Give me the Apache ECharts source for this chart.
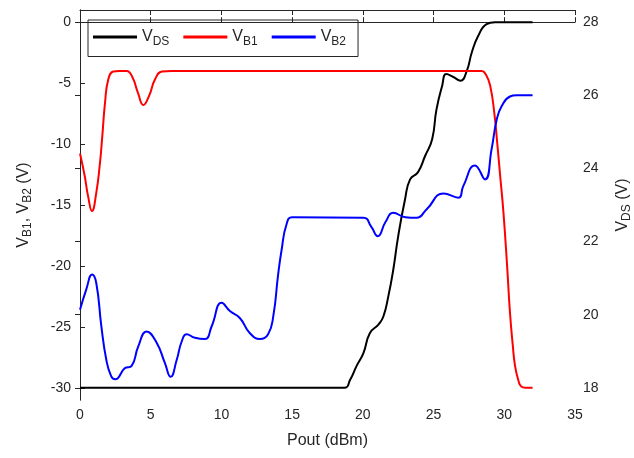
<!DOCTYPE html>
<html>
<head>
<meta charset="utf-8">
<script src="https://cdn.jsdelivr.net/npm/echarts@6/dist/echarts.min.js"></script>
<style>
  html, body { margin: 0; padding: 0; background: #fff; }
  #chart { width: 634px; height: 458px; }
</style>
</head>
<body>
<div id="chart"></div>
<script>
// ------------------------------
// Data
// ------------------------------
var vdsX = [0, 18.7, 19.1, 19.56, 20.04, 20.5, 21.1, 21.45, 21.8, 22.15, 22.5, 22.98, 23.34, 23.9, 24.4, 24.9, 25.2, 25.6, 25.9, 26.4, 26.9, 27.35, 27.7, 28.15, 28.75, 29.35, 32];
var vdsY = [18, 18, 18.22, 18.6, 18.95, 19.5, 19.73, 19.95, 20.5, 21.23, 22.15, 23.15, 23.7, 23.9, 24.34, 24.8, 25.6, 26.25, 26.58, 26.5, 26.4, 26.67, 27.17, 27.62, 27.95, 28, 28];

var vb1X = [0, 0.33, 0.57, 0.85, 1.15, 1.39, 1.56, 1.77, 2.0, 2.35, 2.8, 3.3, 3.7, 4.1, 4.48, 4.9, 5.3, 5.8, 6.5, 28.4, 28.7, 29.0, 29.3, 29.5, 29.7, 29.94, 30.2, 30.4, 30.6, 30.76, 31.0, 31.2, 31.5, 32];
var vb1Y = [-10.77, -12.6, -14.27, -15.5, -14.0, -11.8, -9.6, -6.6, -4.7, -4.05, -4.0, -4.0, -4.5, -5.8, -6.8, -6.0, -4.7, -4.05, -4.0, -4.0, -4.3, -5.2, -7.5, -9.9, -12.5, -15.6, -20, -23.8, -26.5, -28.2, -29.4, -29.9, -30, -30];

var vb2X = [0, 0.45, 0.85, 1.15, 1.51, 1.86, 2.21, 2.5, 3.16, 3.65, 4.12, 4.71, 5.42, 6.0, 6.41, 6.84, 7.19, 7.54, 8.13, 8.84, 9.31, 10.02, 10.6, 11.3, 12.0, 12.73, 13.3, 13.67, 14.0, 14.26, 14.6, 15.0, 20.04, 20.6, 21.05, 21.6, 22.15, 23.0, 23.8, 24.5, 25.7, 26.75, 27.1, 27.93, 28.64, 29.1, 29.47, 29.82, 30.4, 30.88, 32];
var vb2Y = [-23.6, -21.9, -20.7, -21.4, -24.95, -27.7, -29.06, -29.3, -28.4, -28.2, -26.6, -25.37, -26.3, -27.96, -29.1, -27.7, -26.2, -25.6, -25.9, -26.0, -24.95, -23.03, -23.7, -24.27, -25.5, -26.0, -25.6, -24.1, -20.8, -18.65, -16.6, -16.0, -16.05, -16.8, -17.56, -16.4, -15.64, -16.0, -16.05, -15.37, -14.05, -14.4, -13.45, -11.75, -12.9, -10.44, -7.97, -6.88, -6.1, -6.0, -6.0];

var xTicks = [0, 5, 10, 15, 20, 25, 30, 35];
var leftTicks = [-30, -25, -20, -15, -10, -5, 0];
var rightTicks = [18, 20, 22, 24, 26, 28];

function pairs(xs, ys) {
    return xs.map(function (x, i) { return [x, ys[i]]; });
}

var axisColor = '#262626';
var fontFamily = 'Liberation Sans, Arial, sans-serif';
var richSub = {
    v: { fontSize: 16, color: axisColor, fontFamily: fontFamily },
    s: { fontSize: 12, color: axisColor, fontFamily: fontFamily, padding: [9, 0, 0, 0] }
};

var myChart = echarts.init(document.getElementById('chart'));

var option = {
    animation: false,
    backgroundColor: '#fff',
    textStyle: { fontFamily: fontFamily },
    grid: { left: 80, right: 59, top: 10, bottom: 58, outerBoundsMode: 'none', containLabel: false },

    legend: {
        left: 88,
        top: 20,
        orient: 'horizontal',
        padding: [9, 12, 9, 5],
        itemGap: 14,
        itemWidth: 44,
        itemHeight: 3,
        icon: 'rect',
        borderColor: axisColor,
        borderWidth: 1,
        formatter: function (name) {
            return '{v|V}{s|' + name.slice(1) + '}';
        },
        textStyle: { rich: richSub, padding: [0, 0, 0, 0] },
        data: ['VDS', 'VB1', 'VB2']
    },

    xAxis: [
        {
            type: 'value',
            position: 'bottom',
            min: 0, max: 35, interval: 5,
            name: 'Pout (dBm)',
            nameLocation: 'middle',
            nameGap: 33,
            nameTextStyle: { fontSize: 16, color: axisColor },
            axisLine: { lineStyle: { color: axisColor } },
            axisTick: { inside: true, length: 5, lineStyle: { color: axisColor } },
            axisLabel: { color: axisColor, fontSize: 14, margin: 8 },
            splitLine: { show: false }
        },
        {
            type: 'value',
            position: 'top',
            min: 0, max: 35, interval: 5,
            axisLine: { lineStyle: { color: axisColor } },
            axisTick: { inside: true, length: 5, lineStyle: { color: axisColor } },
            axisLabel: { show: false },
            splitLine: { show: false }
        }
    ],

    yAxis: [
        {
            type: 'value',
            position: 'left',
            min: -31, max: 1,
            name: '{v|V}{s|B1}{v|, V}{s|B2}{v| (V)}',
            nameLocation: 'middle',
            nameRotate: 90,
            nameGap: 46,
            nameTextStyle: { rich: richSub },
            axisLine: { show: true, lineStyle: { color: axisColor } },
            axisTick: { inside: true, length: 5, customValues: leftTicks, lineStyle: { color: axisColor } },
            axisLabel: { color: axisColor, fontSize: 14, margin: 9, customValues: leftTicks },
            splitLine: { show: false }
        },
        {
            type: 'value',
            position: 'right',
            min: 17.6667, max: 28.3333,
            name: '{v|V}{s|DS}{v| (V)}',
            nameLocation: 'middle',
            nameRotate: 90,
            nameGap: 37,
            nameTextStyle: { rich: richSub },
            axisLine: { show: true, lineStyle: { color: axisColor } },
            axisTick: { inside: true, length: 5, customValues: rightTicks, lineStyle: { color: axisColor } },
            axisLabel: { color: axisColor, fontSize: 14, margin: 8, customValues: rightTicks },
            splitLine: { show: false }
        }
    ],

    series: [
        {
            name: 'VDS',
            type: 'line',
            yAxisIndex: 1,
            data: pairs(vdsX, vdsY),
            showSymbol: false,
            smooth: 0.5,
            color: '#000000',
            lineStyle: { width: 2, color: '#000000' }
        },
        {
            name: 'VB1',
            type: 'line',
            yAxisIndex: 0,
            data: pairs(vb1X, vb1Y),
            showSymbol: false,
            smooth: 0.5,
            color: '#ff0000',
            lineStyle: { width: 2, color: '#ff0000' }
        },
        {
            name: 'VB2',
            type: 'line',
            yAxisIndex: 0,
            data: pairs(vb2X, vb2Y),
            showSymbol: false,
            smooth: 0.5,
            color: '#0000ff',
            lineStyle: { width: 2, color: '#0000ff' }
        }
    ]
};

myChart.setOption(option);
</script>
</body>
</html>
